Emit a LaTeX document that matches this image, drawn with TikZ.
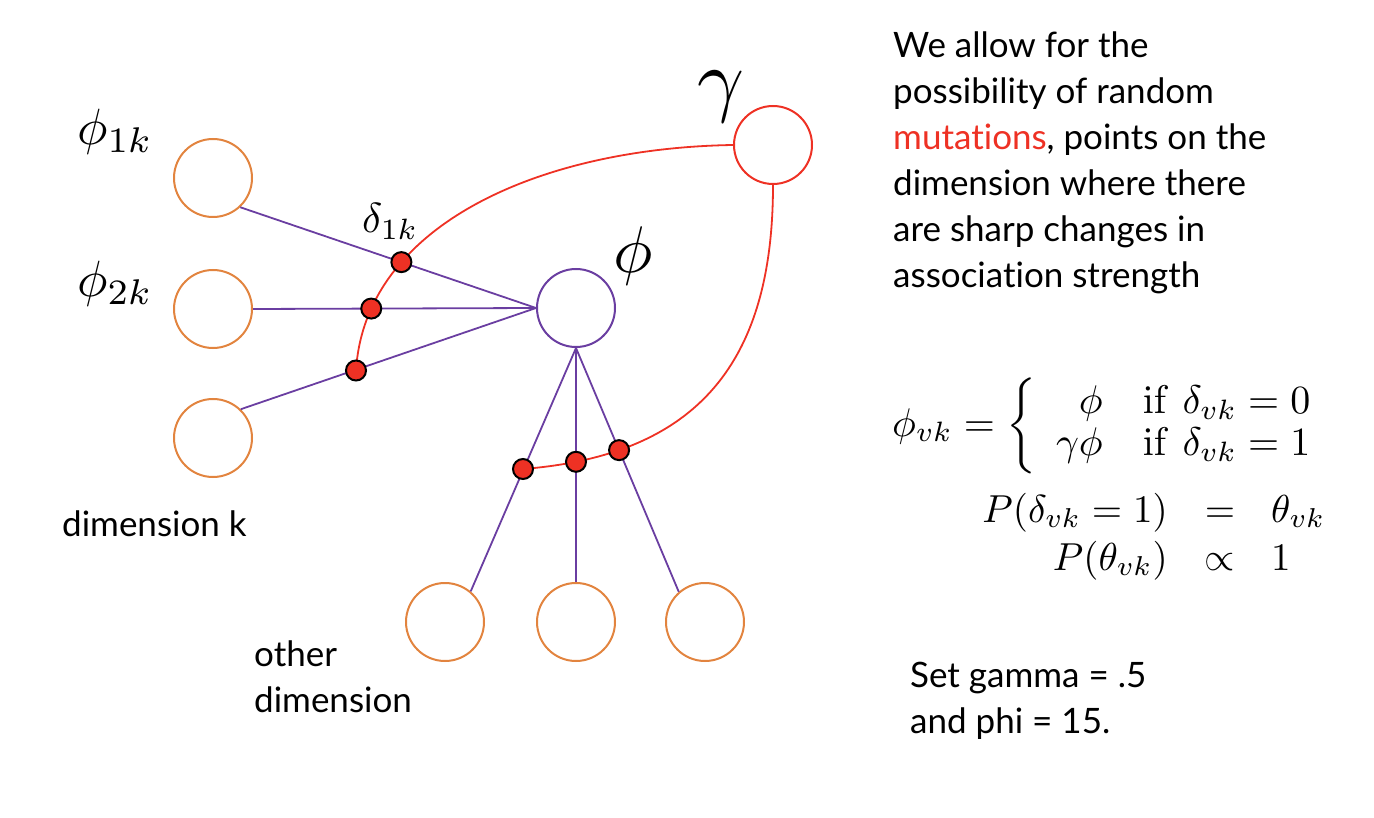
\RequirePackage{fix-cm}
\documentclass[tikz,border=0pt]{standalone}
\usepackage[no-math]{fontspec}
\newfontfamily\gill[Ligatures={NoCommon}]{Lato}
\usetikzlibrary{intersections}
\definecolor{myorange}{HTML}{E2843F}
\definecolor{mypurple}{HTML}{6A3EA1}
\definecolor{myred}{HTML}{EE3124}
\begin{document}
\begin{tikzpicture}[x=1pt,y=-1pt,
  orangec/.style={circle, draw=myorange, line width=2pt, minimum size=78pt, inner sep=0pt},
  purplec/.style={circle, draw=mypurple, line width=2pt, minimum size=78pt, inner sep=0pt},
  redc/.style={circle, draw=myred, line width=2pt, minimum size=78pt, inner sep=0pt},
  link/.style={draw=mypurple, line width=1.8pt},
  mut/.style={draw=myred, line width=1.8pt},
  dotn/.style={circle, fill=myred, draw=black, line width=2pt, minimum size=20pt, inner sep=0pt},
  lbl/.style={inner sep=0pt, anchor=base west, font=\gill\fontsize{35}{46}\selectfont},
  mlbl/.style={inner sep=0pt, anchor=base west, font=\fontsize{10}{12}\selectfont},
]
\useasboundingbox (0,0) rectangle (1374,818);
% circles
\node[orangec] (c1) at (213,178) {};
\node[orangec] (c2) at (213,309) {};
\node[orangec] (c3) at (213,438) {};
\node[purplec] (phi) at (576,308) {};
\node[redc] (g) at (773,145) {};
\node[orangec] (b1) at (445,622) {};
\node[orangec] (b2) at (576,622) {};
\node[orangec] (b3) at (705,622) {};
% purple links
\draw[link, name path=p1] (c1.-47) -- (phi.west);
\draw[link, name path=p2] (c2.east) -- (phi.west);
\draw[link, name path=p3] (c3.46) -- (phi.west);
\draw[link, name path=q1] (phi.south) -- (b1.50);
\draw[link, name path=q2] (phi.south) -- (b2.north);
\draw[link, name path=q3] (phi.south) -- (b3.131);
% red mutation curves
\coordinate (e1) at (356,370.5);
\coordinate (e2) at (523,469);
\draw[mut, name path=r1] (g.west) .. controls (540,148) and (365,225) .. (e1);
\draw[mut, name path=r2] (g.south) .. controls (773,360) and (700,455) .. (e2);
\path[name intersections={of=r1 and p1, by=i1}];
\path[name intersections={of=r1 and p2, by=i2}];
\path[name intersections={of=r2 and q2, by=i4}];
\path[name intersections={of=r2 and q3, by=i5}];
\node[dotn] (d1) at (i1) {};
\node[dotn] (d2) at (i2) {};
\node[dotn] (d3) at (e1) {};
\node[dotn] (d4) at (e2) {};
\node[dotn] (d5) at (i4) {};
\node[dotn] (d6) at (i5) {};
% math labels
\node[mlbl] (l1) at (77,145) {\scalebox{5.1}{$\phi_{1k}$}};
\node[mlbl] (l2) at (77,297) {\scalebox{5.1}{$\phi_{2k}$}};
\node[mlbl] (ld) at (362,233) {\scalebox{4.2}{$\delta_{1k}$}};
\node[mlbl] (lp) at (613,273) {\scalebox{6.6}{$\phi$}};
\node[mlbl] (lg) at (697,107) {\scalebox{8.2}{$\gamma$}};
% text
\node[lbl] (t1) at (893,58) {We allow for the};
\node[lbl] (t2) at (893,104) {possibility of random};
\node[lbl] (t3) at (893,150) {{\color{myred}mutations}, points on the};
\node[lbl] (t4) at (893,196) {dimension where there};
\node[lbl] (t5) at (893,242) {are sharp changes in};
\node[lbl] (t6) at (893,288) {association strength};
\node[lbl] (dk) at (62,536) {dimension k};
\node[lbl] (od1) at (254,666) {other};
\node[lbl] (od2) at (254,712) {dimension};
\node[lbl] (s1) at (910,687) {Set gamma = .5};
\node[lbl] (s2) at (910,733) {and phi = 15.};
% equations
\node[mlbl, anchor=west] (eq1) at (892,426) {\scalebox{4.0}{\renewcommand{\arraystretch}{0.88}$\phi_{vk} = \left\{\begin{array}{rl} \phi & \mathrm{if}\ \delta_{vk}=0\\ \gamma\phi & \mathrm{if}\ \delta_{vk}=1\end{array}\right.$}};
\node[mlbl, anchor=base east] (eq2a) at (1168,522) {\scalebox{3.9}{$P(\delta_{vk}=1)$}};
\node[mlbl, anchor=base] (eq2b) at (1220,522) {\scalebox{3.9}{$=$}};
\node[mlbl, anchor=base west] (eq2c) at (1271,522) {\scalebox{3.9}{$\theta_{vk}$}};
\node[mlbl, anchor=base east] (eq3a) at (1168,570) {\scalebox{3.9}{$P(\theta_{vk})$}};
\node[mlbl, anchor=base] (eq3b) at (1220,570) {\scalebox{3.9}{$\propto$}};
\node[mlbl, anchor=base west] (eq3c) at (1271,570) {\scalebox{3.9}{$1$}};
\end{tikzpicture}
\end{document}
